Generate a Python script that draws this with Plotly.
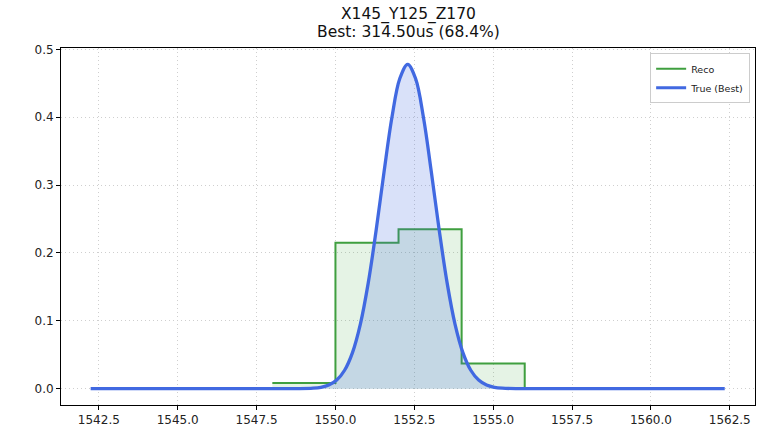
import plotly.graph_objects as go

# Reco histogram (bin edges + normalised counts)
reco_edges = [1548.0, 1550.0, 1552.0, 1554.0, 1556.0]
reco_values = [0.0085, 0.215, 0.235, 0.037]

# True (Best) curve
true_x = [1542.24, 1548.29, 1548.79, 1549.29, 1549.54, 1549.79, 1550.04, 1550.29,
          1550.54, 1550.79, 1551.04, 1551.29, 1551.54, 1551.79, 1552.04, 1552.29,
          1552.54, 1552.79, 1553.04, 1553.29, 1553.54, 1553.79, 1554.04, 1554.29,
          1554.54, 1554.79, 1555.04, 1555.29, 1555.79, 1556.29, 1562.34]
true_y = [0.0, 0.0, 0.00007, 0.00075, 0.0021, 0.0054, 0.0127, 0.0272,
          0.0532, 0.0952, 0.1559, 0.2334, 0.3193, 0.3996, 0.457, 0.478,
          0.457, 0.3996, 0.3193, 0.2334, 0.1559, 0.0952, 0.0532, 0.0272,
          0.0127, 0.0054, 0.0021, 0.00075, 0.00007, 0.0, 0.0]

title_lines = ["X145_Y125_Z170", "Best: 314.50us (68.4%)"]

GREEN = "#3f9f3f"
BLUE = "#4169e1"
FONT = "DejaVu Sans"

# step path for the histogram, dropping to zero at the last edge
step_x = reco_edges + [reco_edges[-1]]
step_y = reco_values + [reco_values[-1], 0.0]

fig = go.Figure()
fig.add_trace(
    go.Scatter(
        x=step_x,
        y=step_y,
        mode="lines",
        line=dict(color=GREEN, width=2, shape="hv"),
        fill="tozeroy",
        fillcolor="rgba(44,160,44,0.12)",
        showlegend=False,
        hoverinfo="skip",
    )
)
fig.add_trace(
    go.Scatter(
        x=true_x,
        y=true_y,
        mode="lines",
        line=dict(color=BLUE, width=3.3, shape="spline", smoothing=1.0),
        fill="tozeroy",
        fillcolor="rgba(65,105,225,0.2)",
        showlegend=False,
        hoverinfo="skip",
    )
)

# legend-only entries (plain lines, no fill swatch)
fig.add_trace(go.Scatter(x=[None], y=[None], mode="lines",
                         line=dict(color=GREEN, width=2), name="Reco"))
fig.add_trace(go.Scatter(x=[None], y=[None], mode="lines",
                         line=dict(color=BLUE, width=3), name="True (Best)"))

axis_common = dict(
    showline=True,
    linecolor="black",
    linewidth=1,
    mirror=True,
    ticks="outside",
    ticklen=4,
    tickcolor="black",
    showgrid=True,
    gridcolor="#cfcfcf",
    griddash="1px,3px",
    gridwidth=1,
    zeroline=False,
    tickfont=dict(family=FONT, size=12, color="#222222"),
)

fig.update_xaxes(
    range=[1541.3, 1563.3],
    tick0=1542.5,
    dtick=2.5,
    tickformat=".1f",
    **axis_common,
)
fig.update_yaxes(
    range=[-0.024, 0.502],
    tick0=0,
    dtick=0.1,
    tickformat=".1f",
    **axis_common,
)

# two-line title, placed above the plot area
for i, line in enumerate(title_lines):
    fig.add_annotation(
        text=line,
        x=0.5,
        xref="paper",
        y=1.0952 - i * 0.0504,
        yref="paper",
        xanchor="center",
        yanchor="middle",
        showarrow=False,
        font=dict(family=FONT, size=15.5, color="#111111"),
    )

fig.update_layout(
    width=758,
    height=431,
    plot_bgcolor="white",
    paper_bgcolor="white",
    margin=dict(l=61, r=3, t=48, b=26),
    legend=dict(
        x=0.993,
        y=0.985,
        xanchor="right",
        yanchor="top",
        bgcolor="white",
        bordercolor="#cccccc",
        borderwidth=1,
        font=dict(family=FONT, size=9.5, color="#222222"),
        itemwidth=30,
        tracegroupgap=0,
    ),
    showlegend=True,
)

fig.write_html(
    "out.html",
    config={"displayModeBar": False},
    post_script="document.body.style.margin='0';",
)
